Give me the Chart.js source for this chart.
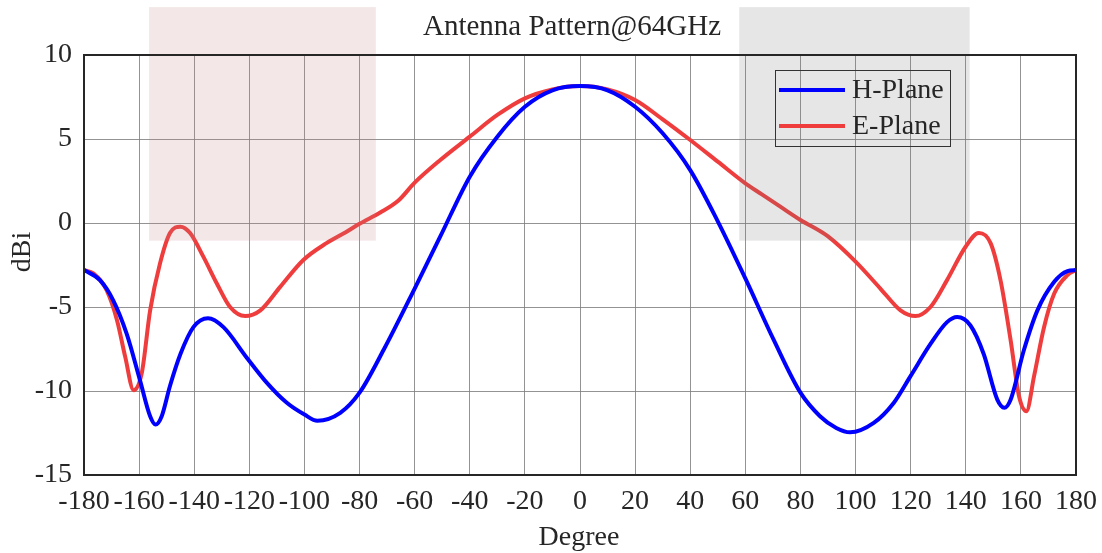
<!DOCTYPE html>
<html>
<head>
<meta charset="utf-8">
<script src="https://cdn.jsdelivr.net/npm/chart.js@4"></script>
<style>
  html, body { margin: 0; padding: 0; background: #ffffff; }
  #wrap { width: 1102px; height: 553px; }
</style>
</head>
<body>
<div id="wrap"><canvas id="c" width="1102" height="553"></canvas></div>
<script>
// ---- data ----
const titleText = 'Antenna Pattern@64GHz';
const xAxisTitle = 'Degree';
const yAxisTitle = 'dBi';
const seriesNames = ['H-Plane', 'E-Plane'];

const hPlaneDeg = [-180, -174.2, -169.4, -164.5, -159.7, -156, -154, -151.8, -148.8, -145, -140.3, -135, -129.4, -121, -113.7, -106.4, -100, -95.3, -87, -80, -71.3, -60, -50.7, -40, -30, -20, -10, 0, 10, 20, 30, 40, 50, 60, 70.3, 80, 87.1, 93, 98, 106.6, 113.9, 120, 127.2, 133.2, 136.9, 141.7, 146.5, 151.4, 154, 156.3, 161.1, 166, 172.1, 176.9, 180];
const hPlaneDbi = [-2.8, -3.4, -4.6, -6.6, -9.35, -11.5, -12.0, -11.5, -9.7, -7.8, -6.2, -5.67, -6.2, -8.0, -9.5, -10.7, -11.4, -11.77, -11.3, -10.1, -7.56, -3.9, -0.8, 2.76, 5.14, 6.92, 7.9, 8.15, 7.9, 6.92, 5.34, 3.15, 0.1, -3.3, -6.96, -10.1, -11.5, -12.2, -12.46, -11.9, -10.7, -9.1, -7.2, -5.9, -5.6, -6.1, -7.8, -10.5, -11.0, -10.5, -7.56, -5.2, -3.5, -2.86, -2.8];

const ePlaneDeg = [-180, -176.6, -171.8, -168, -165, -162, -159, -156, -152.4, -148.8, -145, -141.5, -136.7, -131.8, -127, -121.5, -116, -108.8, -100.4, -92, -85, -80, -72.5, -66, -60, -50.7, -40, -30, -20, -10, 0, 10, 20, 30, 40, 50, 60, 66, 72.7, 80, 90, 100, 109, 116.3, 121.7, 127.2, 133.2, 140, 144.7, 149, 152.6, 156.3, 159.3, 162, 164.8, 168.4, 172.1, 176.9, 180];
const ePlaneDbi = [-2.8, -3.0, -4.0, -5.8, -8.0, -9.95, -8.9, -5.2, -2.4, -0.6, -0.22, -0.6, -2.0, -3.6, -5.0, -5.54, -5.2, -3.8, -2.2, -1.2, -0.55, -0.05, 0.62, 1.32, 2.4, 3.75, 5.14, 6.43, 7.42, 7.95, 8.15, 7.95, 7.32, 6.17, 4.94, 3.65, 2.36, 1.7, 0.97, 0.18, -0.8, -2.3, -3.9, -5.2, -5.54, -5.0, -3.4, -1.4, -0.6, -1.2, -3.4, -7.0, -10.3, -11.2, -9.1, -6.2, -4.2, -3.1, -2.8];

// shaded regions: [xStart, xEnd, yLow, yHigh] in data units
const pinkRegion = [-156.4, -74.1, -1.05, 12.85];
const grayRegion = [57.8, 141.4, -1.05, 12.85];

const xTicksMin = -180, xTicksMax = 180, xTickStep = 20;
const yTicksMin = -15, yTicksMax = 10, yTickStep = 5;

// ---- chart ----
const FONT = '"Liberation Serif", "Times New Roman", serif';
const TEXT = '#262626';
const blue = '#0000ff';
const red = '#ef3d3d';

function toPoints(xs, ys) { return xs.map((x, i) => ({ x: x, y: ys[i] })); }

const overlayPlugin = {
  id: 'overlay',
  afterDatasetsDraw(chart) {
    const { ctx, scales: { x, y }, chartArea: ca } = chart;
    ctx.save();
    const drawRegion = (r, color) => {
      const x0 = x.getPixelForValue(r[0]), x1 = x.getPixelForValue(r[1]);
      const y0 = y.getPixelForValue(r[3]), y1 = y.getPixelForValue(r[2]);
      ctx.fillStyle = color;
      ctx.fillRect(x0, y0, x1 - x0, y1 - y0);
    };
    drawRegion(pinkRegion, 'rgba(190,128,128,0.19)');
    drawRegion(grayRegion, 'rgba(120,120,120,0.19)');
    // plot border
    ctx.strokeStyle = '#262626';
    ctx.lineWidth = 2;
    ctx.strokeRect(ca.left, ca.top, ca.right - ca.left, ca.bottom - ca.top);
    ctx.restore();
  },
  afterDraw(chart) {
    const { ctx } = chart;
    ctx.save();
    // title
    ctx.fillStyle = TEXT;
    ctx.font = '29px ' + FONT;
    ctx.textAlign = 'center';
    ctx.textBaseline = 'alphabetic';
    ctx.fillText(titleText, 572, 35);
    // axis titles
    ctx.font = '28px ' + FONT;
    ctx.textBaseline = 'middle';
    ctx.fillText(xAxisTitle, 579, 538);
    ctx.save();
    ctx.translate(23, 252);
    ctx.rotate(-Math.PI / 2);
    ctx.fillText(yAxisTitle, 0, 0);
    ctx.restore();
    // legend
    const lx = 775, ly = 70, lw = 175, lh = 76;
    ctx.strokeStyle = '#333333';
    ctx.lineWidth = 1;
    ctx.strokeRect(lx + 0.5, ly + 0.5, lw, lh);
    const ds = chart.data.datasets;
    const rows = [90, 126];
    ds.forEach((d, i) => {
      ctx.strokeStyle = d.borderColor;
      ctx.lineWidth = 4;
      ctx.beginPath();
      ctx.moveTo(779, rows[i]);
      ctx.lineTo(845, rows[i]);
      ctx.stroke();
      ctx.fillStyle = TEXT;
      ctx.font = '28px ' + FONT;
      ctx.textAlign = 'left';
      ctx.textBaseline = 'middle';
      ctx.fillText(d.label, 852, rows[i] + 1);
    });
    ctx.restore();
  }
};

new Chart(document.getElementById('c'), {
  type: 'line',
  data: {
    datasets: [
      { label: seriesNames[0], data: toPoints(hPlaneDeg, hPlaneDbi), borderColor: blue, backgroundColor: blue,
        borderWidth: 4, pointRadius: 0, cubicInterpolationMode: 'monotone', fill: false },
      { label: seriesNames[1], data: toPoints(ePlaneDeg, ePlaneDbi), borderColor: red, backgroundColor: red,
        borderWidth: 4, pointRadius: 0, cubicInterpolationMode: 'monotone', fill: false }
    ]
  },
  options: {
    responsive: false,
    animation: false,
    devicePixelRatio: 1,
    layout: { padding: { top: 55, right: 26, left: 0, bottom: 0 } },
    plugins: { legend: { display: false }, title: { display: false }, tooltip: { enabled: false } },
    scales: {
      x: {
        type: 'linear', min: xTicksMin, max: xTicksMax,
        afterFit(s) { s.height = 78; s.paddingLeft = 0; s.paddingRight = 0; },
        ticks: { stepSize: xTickStep, color: TEXT, font: { family: FONT, size: 28 }, padding: 10, maxRotation: 0, autoSkip: false,
                 callback: v => String(v) },
        grid: { color: 'rgba(128,128,128,0.85)', lineWidth: 1, drawTicks: false },
        border: { display: false }
      },
      y: {
        type: 'linear', min: yTicksMin, max: yTicksMax,
        afterFit(s) { s.width = 84; s.paddingTop = 0; s.paddingBottom = 0; },
        ticks: { stepSize: yTickStep, color: TEXT, font: { family: FONT, size: 28 }, padding: 12,
                 callback: v => String(v) },
        grid: { color: 'rgba(128,128,128,0.85)', lineWidth: 1, drawTicks: false },
        border: { display: false }
      }
    }
  },
  plugins: [overlayPlugin]
});
</script>
</body>
</html>
